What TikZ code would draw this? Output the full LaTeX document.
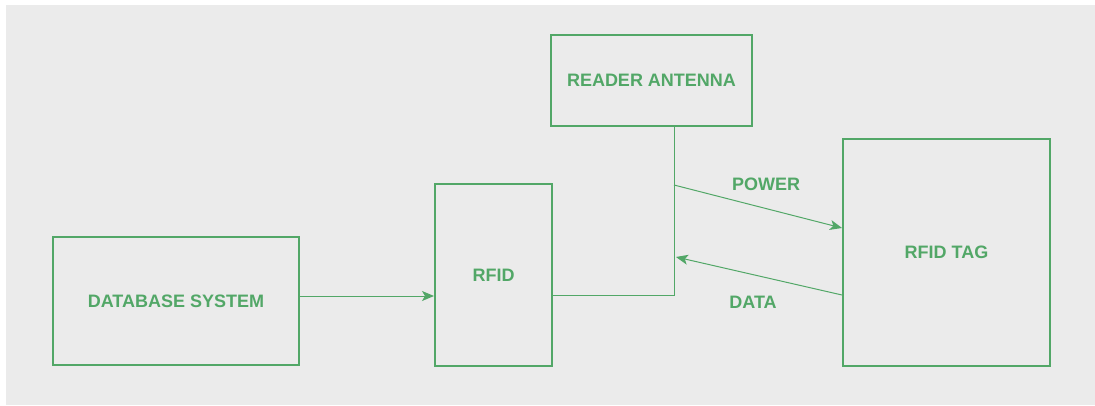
\documentclass[tikz,border=0pt]{standalone}
\usepackage{fontspec}
\setmainfont{Liberation Sans}
\usetikzlibrary{arrows.meta}

\definecolor{rfgreen}{RGB}{82,167,103}
\definecolor{rfgray}{RGB}{235,235,235}

\tikzset{
    block/.style={draw=rfgreen, line width=2pt, text=rfgreen,
        font=\fontsize{18}{21}\selectfont\bfseries, inner sep=0pt},
    wire/.style={draw=rfgreen, line width=1pt},
    tip/.style={-{Stealth[length=12pt, width=10pt, inset=3pt]}},
    tag label/.style={text=rfgreen, font=\fontsize{18}{21}\selectfont\bfseries}
}

\begin{document}
\begin{tikzpicture}[x=1pt, y=-1pt]
    \useasboundingbox (0,0) rectangle (1095,405);
    \fill[white] (0,0) rectangle (1095,405);
    \fill[rfgray] (6,5) rectangle (1095,405);

    % boxes
    \node[block, minimum width=246pt, minimum height=128pt] (db) at (176,301) {DATABASE SYSTEM};
    \node[block, minimum width=117pt, minimum height=182pt] (rfid) at (493.5,275) {RFID};
    \node[block, minimum width=201pt, minimum height=91pt] (ant) at (651.5,80.5) {READER ANTENNA};
    \node[block, minimum width=207pt, minimum height=227pt] (tag) at (946.5,252.5) {RFID TAG};

    % database to reader
    \draw[wire, tip] (db.east |- 0,296) -- (rfid.west |- 0,296);
    % reader to antenna
    \coordinate (turn) at (674,295);
    \draw[wire] (rfid.east |- turn) -- (turn) -- (turn |- ant.south);
    % power out, data back
    \draw[wire, tip] (turn |- 0,185) -- (tag.west |- 0,228);
    \draw[wire, tip] (tag.west |- 0,295) -- (676,257);

    \node[tag label] (power) at (766,184) {POWER};
    \node[tag label] (data) at (753,302) {DATA};
\end{tikzpicture}
\end{document}
